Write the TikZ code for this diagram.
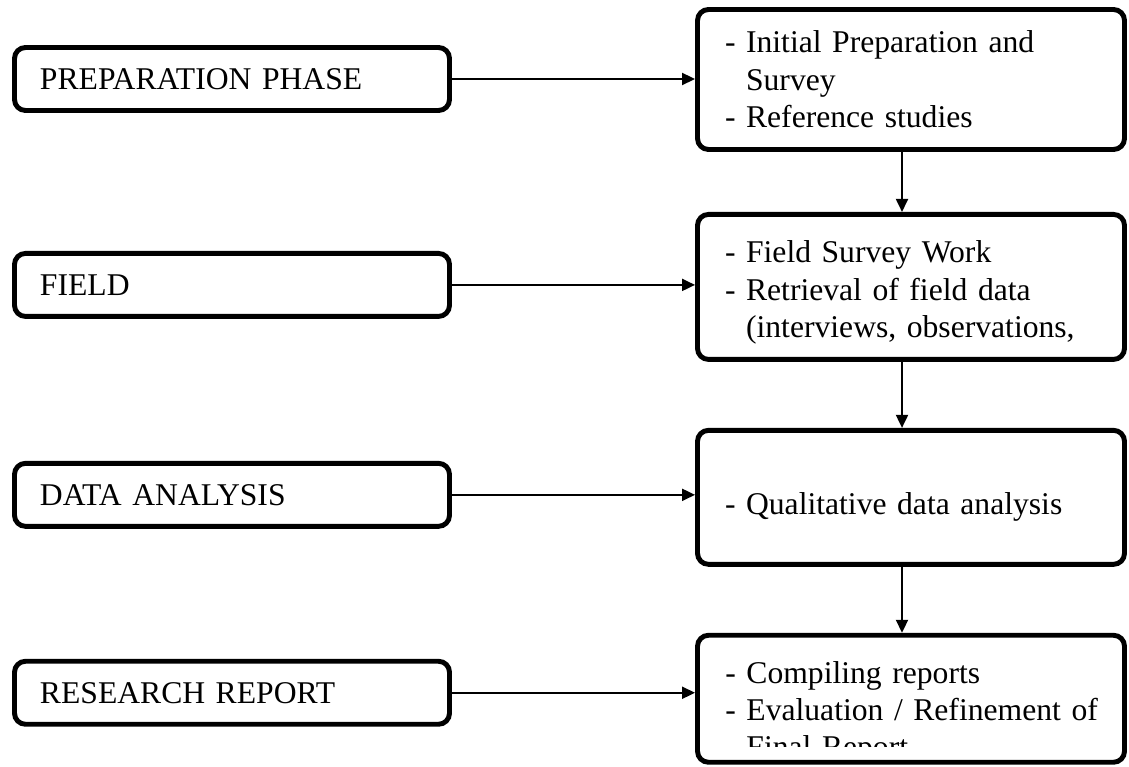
\documentclass[tikz,border=0pt]{standalone}
\usepackage{fontspec}
\setmainfont{Liberation Serif}
\usetikzlibrary{positioning}
\usetikzlibrary{arrows.meta,calc}

\newcommand{\contline}{\hphantom{-}\ }

\begin{document}
\begin{tikzpicture}[
auto,
node distance = 1.3cm,
>={Triangle[length=0.26cm,width=0.24cm]},
phase/.style={rectangle,rounded corners=0.22cm,draw,line width=2.8pt,minimum height=1.26cm,text width=7.68cm,inner xsep=0.51cm,align=left,font=\fontsize{18}{21.3}\selectfont},
task/.style={rectangle,rounded corners=0.22cm,draw,line width=2.8pt,text width=7.44cm,inner xsep=0.55cm,align=left,font=\fontsize{18}{21.3}\selectfont},
link/.style={->,line width=1.1pt}]
\useasboundingbox (0,0) rectangle (22.58,-15.34);
\node [phase] (prepphase) at (4.64,-1.58) {PREPARATION PHASE};
\node [phase] (field) [below=2.76cm of prepphase] {FIELD};
\node [phase] (analysis) [below=2.84cm of field] {DATA ANALYSIS};
\node [phase] (report) [below=2.6cm of analysis] {RESEARCH REPORT};
\node [task,minimum height=2.8cm] (prepwork) at (18.22,-1.59) {- Initial Preparation and\\\contline Survey\\- Reference studies};
\node [task,minimum height=2.9cm,text height=0.67cm] (fieldwork) [below=1.2cm of prepwork] {- Field Survey Work\\- Retrieval of field data\\\contline (interviews, observations,};
\node [task,minimum height=2.68cm,text height=0.84cm] (analysiswork) [below=1.32cm of fieldwork] {- Qualitative data analysis};
\node [task,minimum height=2.54cm] (reportwork) [below=1.32cm of analysiswork] {};
\coordinate (cutoff) at (0,-14.92);
\begin{scope}
\clip (reportwork.north west) rectangle (reportwork.east |- cutoff);
\node [anchor=base west,inner sep=0pt,text width=7.6cm,align=left,font=\fontsize{18}{21.3}\selectfont] (reportlist) at (14.5,-13.66) {- Compiling reports\\- Evaluation / Refinement of\\\contline Final Report};
\end{scope}
\draw [link] (prepphase.east) -- (prepphase.east -| prepwork.west);
\draw [link] (field.east) -- (field.east -| fieldwork.west);
\draw [link] (analysis.east) -- (analysis.east -| analysiswork.west);
\draw [link] (report.east) -- (report.east -| reportwork.west);
\draw [link] ([xshift=-0.18cm]prepwork.south) -- ([xshift=-0.18cm]fieldwork.north);
\draw [link] ([xshift=-0.18cm]fieldwork.south) -- ([xshift=-0.18cm]analysiswork.north);
\draw [link] ([xshift=-0.18cm]analysiswork.south) -- ([xshift=-0.18cm]reportwork.north);
\end{tikzpicture}
\end{document}
